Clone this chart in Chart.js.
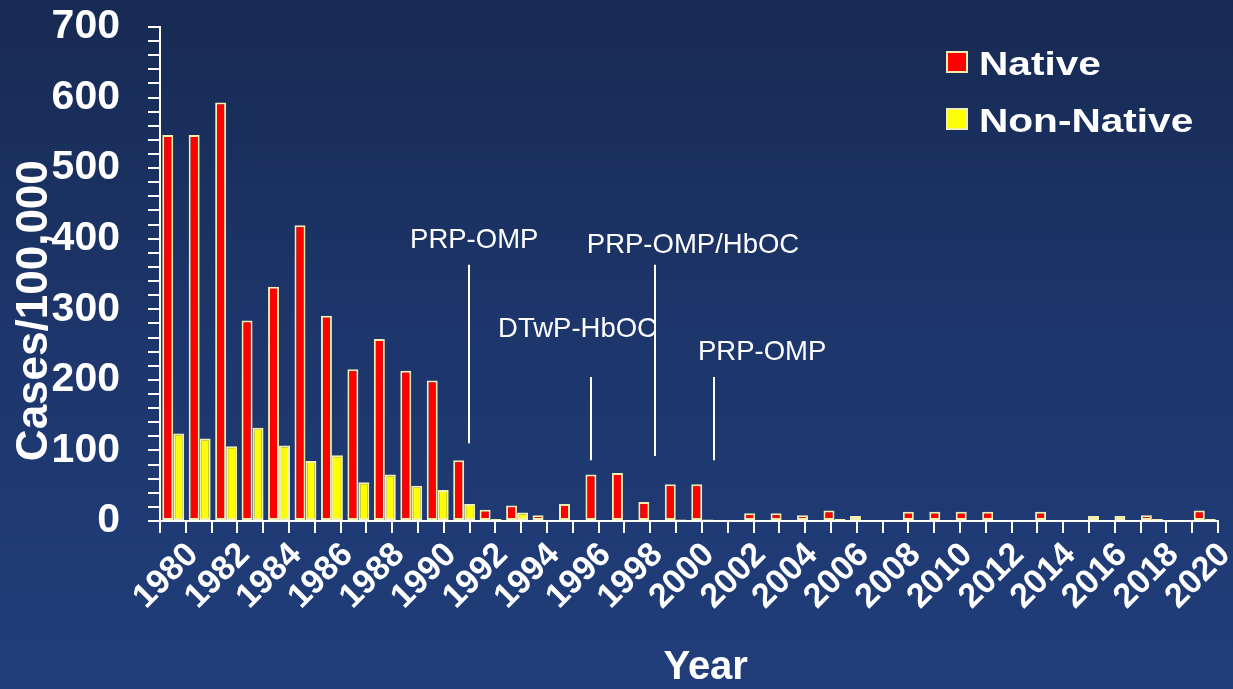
<!DOCTYPE html>
<html>
<head>
<meta charset="utf-8">
<script src="https://cdn.jsdelivr.net/npm/chart.js@4/dist/chart.umd.min.js"></script>
<style>
html,body{margin:0;padding:0;}
body{width:1233px;height:689px;overflow:hidden;
  background:linear-gradient(to bottom,#172a53 0%,#1d366c 50%,#213e7b 100%);
  font-family:"Liberation Sans",Arial,sans-serif;}
#wrap{position:relative;width:1233px;height:689px;}
#chart{position:absolute;left:0;top:0;}
.lg-item{position:absolute;left:946px;height:40px;}
.lg-box{position:absolute;left:0;width:18px;height:18px;border:2px solid #f1eeb2;}
.lg-text{position:absolute;left:33px;white-space:nowrap;color:#fff;font-weight:bold;font-size:33px;line-height:33px;
  transform:scaleX(1.23);transform-origin:left center;}
</style>
</head>
<body>
<div id="wrap">
<canvas id="chart" width="1233" height="689"></canvas>
<div id="legend"></div>
</div>
<script>
// ---- data ----
const years = ['1980','1981','1982','1983','1984','1985','1986','1987','1988','1989',
  '1990','1991','1992','1993','1994','1995','1996','1997','1998','1999',
  '2000','2001','2002','2003','2004','2005','2006','2007','2008','2009',
  '2010','2011','2012','2013','2014','2015','2016','2017','2018','2019'];
const nativeCases = [547,547,593,284,332,419,291,215,258,213,
  199,86,16,22,8,24,66,68,27,52,
  52,0,11,11,8,15,7,0,13,13,
  13,13,0,13,0,7,7,8,0,15];
const nonNativeCases = [124,117,106,132,107,85,93,55,66,50,
  44,24,3,12,0,0,0,0,0,2,
  2,0,0,0,0,3,0,0,0,0,
  0,0,0,0,0,0,0,3,0,3];
const seriesNames = ['Native','Non-Native'];
const xTickYears = [1980,1982,1984,1986,1988,1990,1992,1994,1996,1998,2000,
  2002,2004,2006,2008,2010,2012,2014,2016,2018,2020];
const yTickLabels = [0,100,200,300,400,500,600,700];
// vaccine annotations (in data units)
const noteLabels = ['PRP-OMP','DTwP-HbOC','PRP-OMP/HbOC','PRP-OMP'];
const noteLineYear = [1991.46,1996.2,1998.7,2000.98];
const noteLineTop = [363,204,363,204];
const noteLineBottom = [110,86,92,86];
const noteTextYear = [1989.19,1992.6,1996.04,2000.35];
const noteTextValue = [387,261,380,228];

const FONT = '"Liberation Sans", Arial, sans-serif';
const WHITE = '#ffffff';
const BORDER = '#f1eeb2';
const COLORS = ['#ff0000','#ffff00'];

// HTML legend built from the series
const lg = document.getElementById('legend');
seriesNames.forEach((name, i) => {
  const item = document.createElement('div');
  item.className = 'lg-item';
  item.style.top = (51 + 57 * i) + 'px';
  const box = document.createElement('div');
  box.className = 'lg-box';
  box.style.top = '0px';
  box.style.background = COLORS[i];
  const txt = document.createElement('span');
  txt.className = 'lg-text';
  txt.style.top = '-4px';
  txt.textContent = name;
  item.appendChild(box); item.appendChild(txt);
  lg.appendChild(item);
});

const notesPlugin = {
  id: 'vaccineNotes',
  afterDatasetsDraw(chart) {
    const {ctx, scales} = chart;
    const xs = scales.x2, ys = scales.y;
    ctx.save();
    ctx.strokeStyle = WHITE;
    ctx.lineWidth = 2;
    ctx.fillStyle = WHITE;
    ctx.font = '27.5px ' + FONT;
    ctx.textAlign = 'left';
    ctx.textBaseline = 'alphabetic';
    noteLabels.forEach((t, i) => {
      const px = Math.round(xs.getPixelForValue(noteLineYear[i]));
      ctx.beginPath();
      ctx.moveTo(px, ys.getPixelForValue(noteLineTop[i]));
      ctx.lineTo(px, ys.getPixelForValue(noteLineBottom[i]));
      ctx.stroke();
      ctx.fillText(t, xs.getPixelForValue(noteTextYear[i]), ys.getPixelForValue(noteTextValue[i]));
    });
    ctx.restore();
  }
};

new Chart(document.getElementById('chart'), {
  type: 'bar',
  data: {
    labels: years,
    datasets: [
      {label: seriesNames[0], data: nativeCases, backgroundColor: COLORS[0], borderColor: BORDER, borderWidth: 2, borderSkipped: false, xAxisID: 'x', yAxisID: 'y'},
      {label: seriesNames[1], data: nonNativeCases, backgroundColor: COLORS[1], borderColor: BORDER, borderWidth: 2, borderSkipped: false, xAxisID: 'x', yAxisID: 'y'}
    ]
  },
  options: {
    responsive: false,
    animation: false,
    devicePixelRatio: 1,
    layout: {padding: {top: 27, right: 15, bottom: 0, left: 0}},
    datasets: {bar: {categoryPercentage: 0.83, barPercentage: 1}},
    plugins: {legend: {display: false}, tooltip: {enabled: false}},
    scales: {
      x: {type: 'category', display: false, offset: true},
      x2: {
        type: 'linear', position: 'bottom', min: 1980, max: 2020,
        grid: {drawOnChartArea: false, drawTicks: true, tickLength: 12, color: WHITE, lineWidth: 2},
        border: {display: true, color: WHITE, width: 2},
        ticks: {
          stepSize: 1, autoSkip: false, maxTicksLimit: 100, maxRotation: 45, minRotation: 45,
          color: WHITE, font: {family: FONT, size: 34, weight: 'bold'}, padding: 2, labelOffset: 20,
          callback: (v) => xTickYears.includes(v) ? String(v) : ''
        },
        title: {display: true, text: '\u00a0\u00a0\u00a0Year', color: WHITE, font: {family: FONT, size: 40, weight: 'bold', lineHeight: 1.05}, padding: {top: 0, bottom: 0}},
        afterFit: (s) => { s.height = 168; s.paddingLeft = 0; s.paddingRight = 0; }
      },
      y: {
        min: 0, max: 700,
        grid: {drawOnChartArea: false, drawTicks: true, tickLength: 12, color: WHITE, lineWidth: 2},
        border: {display: true, color: WHITE, width: 2},
        ticks: {
          stepSize: 20, autoSkip: false, maxTicksLimit: 100, color: WHITE, padding: 28,
          font: {family: FONT, size: 41, weight: 'bold'},
          callback: (v) => yTickLabels.includes(v) ? String(v) : ''
        },
        title: {display: true, text: 'Cases/100,000\u00a0\u00a0\u00a0\u00a0\u00a0\u00a0', color: WHITE, font: {family: FONT, size: 44, weight: 'bold', lineHeight: 1.2}, padding: {top: 8, bottom: 0}},
        afterFit: (s) => { s.width = 160; s.paddingTop = 0; s.paddingBottom = 0; }
      }
    }
  },
  plugins: [notesPlugin]
});
</script>
</body>
</html>
